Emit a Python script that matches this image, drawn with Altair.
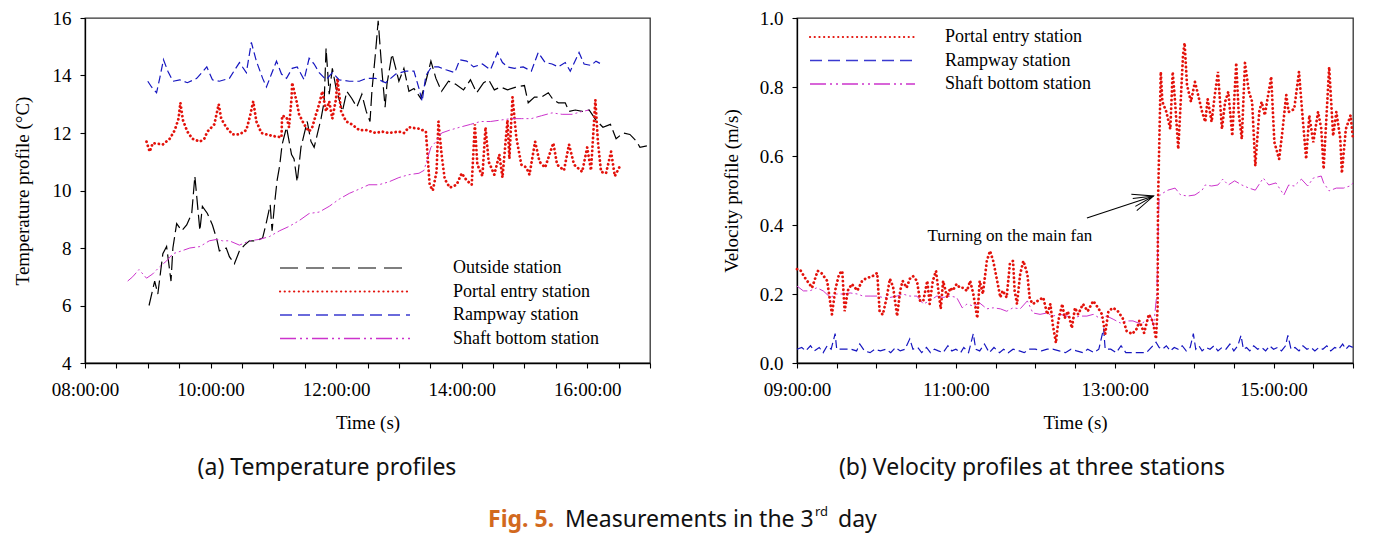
import altair as alt
import pandas as pd

# ---------------- data (hours, values) ----------------
out_h = [9.02, 9.11, 9.16, 9.24, 9.30, 9.37, 9.40, 9.46, 9.54, 9.62, 9.70, 9.75, 9.83, 9.87, 9.95,
         10.03, 10.10, 10.14, 10.25, 10.30, 10.38, 10.46, 10.54, 10.62, 10.73, 10.83, 10.89, 10.95,
         10.98, 11.03, 11.06, 11.10, 11.14, 11.21, 11.29, 11.33, 11.38, 11.44, 11.49, 11.54, 11.60,
         11.65, 11.70, 11.76, 11.81, 11.84, 11.89, 11.94, 12.00, 12.10, 12.17, 12.25, 12.33, 12.41,
         12.48, 12.54, 12.57, 12.63, 12.67, 12.73, 12.78, 12.81, 12.89, 12.95, 13.00, 13.08, 13.16,
         13.24, 13.35, 13.43, 13.51, 13.59, 13.68, 13.79, 13.90, 14.03, 14.14, 14.24, 14.35, 14.43,
         14.52, 14.62, 14.73, 14.87, 15.00, 15.06, 15.16, 15.27, 15.38, 15.46, 15.54, 15.65, 15.71,
         15.81, 15.92, 16.03, 16.14, 16.25, 16.37, 16.46, 16.57, 16.68, 16.79, 16.84, 16.95]
out_v = [6.0, 6.85, 6.4, 7.8, 8.05, 6.85, 8.0, 8.85, 8.6, 8.8, 9.2, 10.5, 8.6, 9.45, 9.2,
         8.8, 8.3, 7.9, 8.0, 7.7, 7.45, 7.9, 8.1, 8.25, 8.25, 8.35, 8.9, 9.5,
         8.6, 9.75, 10.35, 10.85, 11.6, 12.2, 11.25, 11.1, 10.3, 11.5, 11.95, 12.4, 11.7,
         11.5, 11.95, 12.5, 13.1, 14.95, 13.35, 14.25, 13.55, 12.75, 13.45, 13.2, 12.9, 13.35,
         12.75, 12.4, 13.45, 14.85, 15.9, 14.15, 12.9, 13.7, 14.75, 14.25, 13.8, 14.25, 13.45,
         13.55, 13.2, 13.8, 14.5, 13.9, 13.45, 13.8, 13.7, 13.5, 13.85, 13.4, 13.75, 13.85,
         13.5, 13.6, 13.5, 13.6, 13.65, 13.05, 13.25, 13.25, 13.4, 13.15, 13.05, 13.05, 12.75,
         12.8, 12.75, 12.8, 12.45, 12.2, 12.3, 11.8, 12.0, 11.95, 11.7, 11.5, 11.55]

portal_h = [8.98, 9.03, 9.08, 9.24, 9.35, 9.43, 9.49, 9.52, 9.56, 9.63, 9.71, 9.83, 9.90, 9.95,
            10.06, 10.13, 10.17, 10.25, 10.35, 10.46, 10.57, 10.63, 10.68, 10.73, 10.81, 10.89,
            10.98, 11.13, 11.14, 11.21, 11.25, 11.29, 11.30, 11.37, 11.41, 11.49, 11.57, 11.62,
            11.68, 11.73, 11.78, 11.84, 11.89, 11.94, 12.00, 12.02, 12.08, 12.16, 12.25, 12.37,
            12.48, 12.63, 12.73, 12.84, 13.00, 13.08, 13.16, 13.32, 13.43, 13.49, 13.54, 13.60,
            13.63, 13.68, 13.73, 13.81, 13.92, 14.00, 14.08, 14.16, 14.21, 14.25, 14.33, 14.38,
            14.43, 14.52, 14.60, 14.65, 14.73, 14.76, 14.81, 14.87, 14.95, 15.03, 15.08, 15.17,
            15.24, 15.33, 15.46, 15.52, 15.63, 15.71, 15.79, 15.92, 16.00, 16.06, 16.13, 16.17,
            16.22, 16.30, 16.38, 16.44, 16.51]
portal_v = [11.7, 11.35, 11.65, 11.6, 11.8, 12.1, 12.5, 13.05, 12.45, 12.05, 11.8, 11.7, 11.8, 12.05,
            12.3, 13.0, 12.5, 12.2, 11.95, 11.95, 12.1, 12.6, 13.1, 12.4, 12.0, 11.95,
            11.9, 11.85, 12.6, 12.55, 12.2, 13.2, 13.75, 13.1, 12.65, 12.3, 12.05, 12.2,
            12.65, 13.0, 13.45, 12.75, 13.1, 12.5, 13.2, 13.9, 12.75, 12.4, 12.3, 12.1,
            12.1, 12.0, 12.05, 12.0, 12.05, 12.0, 12.2, 12.15, 12.05, 10.2, 10.0, 10.65,
            12.4, 11.25, 10.4, 10.1, 10.2, 10.6, 10.35, 10.2, 12.3, 10.9, 10.5, 12.2,
            11.0, 10.55, 11.25, 10.45, 12.45, 11.1, 13.25, 11.85, 10.9, 10.8, 10.55, 11.7,
            11.0, 10.8, 11.65, 10.9, 10.7, 11.6, 10.9, 10.65, 11.5, 10.7, 13.15, 11.7,
            10.65, 10.6, 11.35, 10.5, 10.8]

ramp_h = [9.00, 9.06, 9.14, 9.19, 9.25, 9.32, 9.40, 9.51, 9.63, 9.78, 9.94, 10.03, 10.14, 10.30,
          10.46, 10.57, 10.65, 10.73, 10.83, 10.89, 10.97, 11.05, 11.13, 11.21, 11.30, 11.38,
          11.49, 11.57, 11.65, 11.73, 11.84, 11.94, 12.05, 12.21, 12.37, 12.48, 12.63, 12.79,
          12.95, 13.11, 13.24, 13.32, 13.37, 13.43, 13.52, 13.63, 13.75, 13.89, 13.97, 14.08,
          14.19, 14.33, 14.46, 14.57, 14.65, 14.73, 14.84, 14.98, 15.11, 15.22, 15.33, 15.44,
          15.54, 15.65, 15.73, 15.87, 15.95, 16.06, 16.14, 16.22]
ramp_v = [13.8, 13.6, 13.4, 13.9, 14.55, 14.15, 13.8, 13.85, 13.75, 13.9, 14.3, 13.85, 13.8, 13.9,
          14.45, 14.1, 15.15, 14.5, 13.9, 13.6, 14.05, 14.5, 14.05, 13.9, 14.25, 14.3,
          13.85, 14.6, 14.4, 14.1, 13.85, 14.1, 13.85, 13.8, 13.8, 13.9, 13.9, 13.75,
          14.05, 14.15, 14.15, 13.55, 13.1, 14.0, 14.3, 14.3, 14.2, 14.1, 14.55, 14.5,
          14.3, 14.4, 14.2, 14.8, 14.45, 14.3, 14.25, 14.3, 14.15, 14.8, 14.45, 14.4,
          14.3, 14.45, 14.15, 14.8, 14.4, 14.35, 14.5, 14.4]

shaft_h = [8.68, 8.76, 8.86, 8.98, 9.08, 9.19, 9.30, 9.40, 9.54, 9.67, 9.83, 9.98, 10.10, 10.19,
           10.30, 10.46, 10.62, 10.78, 10.94, 11.10, 11.25, 11.41, 11.57, 11.73, 11.89, 12.05,
           12.21, 12.37, 12.52, 12.68, 12.84, 13.00, 13.16, 13.32, 13.40, 13.44, 13.51, 13.59,
           13.68, 13.81, 13.97, 14.14, 14.30, 14.46, 14.62, 14.79, 14.95, 15.11, 15.27, 15.44,
           15.60, 15.76, 15.92, 16.03]
shaft_v = [6.85, 7.0, 7.25, 6.95, 7.1, 7.35, 7.55, 7.8, 7.9, 8.0, 8.05, 8.25, 8.3, 8.25,
           8.25, 8.1, 8.25, 8.3, 8.4, 8.6, 8.75, 8.95, 9.2, 9.25, 9.45, 9.7,
           9.9, 10.05, 10.2, 10.2, 10.3, 10.45, 10.55, 10.6, 10.7, 11.0, 11.5, 11.7,
           12.0, 12.1, 12.2, 12.3, 12.4, 12.4, 12.45, 12.5, 12.5, 12.5, 12.6, 12.7,
           12.65, 12.65, 12.75, 12.8]

# velocity panel
vp_h = [9.00, 9.04, 9.10, 9.19, 9.26, 9.31, 9.38, 9.44, 9.48, 9.53, 9.57, 9.60, 9.64, 9.69, 9.76,
        9.82, 9.88, 9.94, 10.01, 10.04, 10.08, 10.13, 10.17, 10.21, 10.26, 10.30, 10.33, 10.38,
        10.42, 10.46, 10.51, 10.55, 10.59, 10.64, 10.67, 10.71, 10.75, 10.78, 10.81, 10.84, 10.89,
        10.93, 10.96, 11.01, 11.05, 11.09, 11.14, 11.18, 11.22, 11.27, 11.30, 11.34, 11.39, 11.43,
        11.47, 11.52, 11.56, 11.59, 11.64, 11.68, 11.72, 11.74, 11.77, 11.81, 11.85, 11.90, 11.93,
        11.97, 12.03, 12.10, 12.15, 12.19, 12.22, 12.26, 12.29, 12.34, 12.37, 12.41, 12.46, 12.50,
        12.54, 12.60, 12.66, 12.73, 12.79, 12.84, 12.88, 12.92, 12.98, 13.04, 13.10, 13.15, 13.22,
        13.28, 13.31, 13.37, 13.43, 13.48, 13.52, 13.54, 13.545, 13.58, 13.60, 13.65, 13.70, 13.73,
        13.76, 13.80, 13.82, 13.86, 13.88, 13.91, 13.96, 14.01, 14.05, 14.10, 14.14, 14.17, 14.22,
        14.26, 14.30, 14.35, 14.39, 14.43, 14.48, 14.53, 14.56, 14.60, 14.64, 14.69, 14.73, 14.77,
        14.82, 14.85, 14.89, 14.97, 15.01, 15.07, 15.11, 15.16, 15.19, 15.26, 15.32, 15.36, 15.41,
        15.45, 15.50, 15.56, 15.60, 15.63, 15.70, 15.75, 15.79, 15.84, 15.86, 15.91, 15.97, 16.00]
vp_v = [0.272, 0.27, 0.247, 0.218, 0.267, 0.26, 0.238, 0.141, 0.21, 0.258, 0.267, 0.15, 0.21, 0.229, 0.21,
        0.238, 0.247, 0.25, 0.261, 0.15, 0.14, 0.19, 0.244, 0.22, 0.136, 0.21, 0.238, 0.218,
        0.244, 0.252, 0.238, 0.18, 0.18, 0.238, 0.171, 0.238, 0.267, 0.21, 0.157, 0.238, 0.19,
        0.218, 0.21, 0.229, 0.218, 0.218, 0.209, 0.238, 0.2, 0.13, 0.238, 0.2, 0.296, 0.325,
        0.296, 0.238, 0.19, 0.21, 0.19, 0.287, 0.296, 0.21, 0.171, 0.258, 0.296, 0.258, 0.186,
        0.171, 0.18, 0.19, 0.141, 0.171, 0.112, 0.058, 0.122, 0.171, 0.13, 0.15, 0.101, 0.16,
        0.141, 0.171, 0.15, 0.18, 0.16, 0.141, 0.084, 0.15, 0.16, 0.15, 0.13, 0.093, 0.084,
        0.1, 0.122, 0.087, 0.141, 0.12, 0.07, 0.162, 0.464, 0.844, 0.757, 0.728, 0.678, 0.844,
        0.757, 0.62, 0.707, 0.893, 0.928, 0.806, 0.757, 0.815, 0.777, 0.728, 0.699, 0.765, 0.699,
        0.777, 0.844, 0.678, 0.757, 0.786, 0.658, 0.87, 0.728, 0.649, 0.87, 0.786, 0.757, 0.571,
        0.728, 0.757, 0.718, 0.83, 0.64, 0.591, 0.669, 0.777, 0.728, 0.736, 0.844, 0.728, 0.591,
        0.718, 0.64, 0.728, 0.68, 0.562, 0.858, 0.658, 0.728, 0.65, 0.55, 0.678, 0.718, 0.649]

vs_h = [9.00, 9.08, 9.16, 9.25, 9.33, 9.42, 9.50, 9.58, 9.67, 9.76, 9.83, 9.92, 10.01, 10.08,
        10.17, 10.26, 10.33, 10.42, 10.51, 10.59, 10.67, 10.76, 10.84, 10.93, 11.01, 11.08, 11.14,
        11.22, 11.30, 11.39, 11.47, 11.56, 11.64, 11.72, 11.81, 11.90, 11.97, 12.06, 12.15, 12.22,
        12.31, 12.40, 12.47, 12.56, 12.65, 12.73, 12.81, 12.90, 12.98, 13.07, 13.15, 13.23, 13.33,
        13.46, 13.49, 13.53, 13.545, 13.56, 13.61, 13.67, 13.76, 13.83, 13.92, 14.01, 14.10, 14.14,
        14.22, 14.30, 14.36, 14.43, 14.51, 14.60, 14.69, 14.77, 14.87, 14.94, 15.03, 15.13, 15.19,
        15.26, 15.35, 15.43, 15.50, 15.60, 15.63, 15.70, 15.79, 15.88, 15.96, 16.00]
vs_v = [0.223, 0.209, 0.209, 0.218, 0.209, 0.19, 0.2, 0.2, 0.203, 0.2, 0.194, 0.194, 0.194, 0.19,
        0.19, 0.194, 0.2, 0.194, 0.194, 0.171, 0.18, 0.194, 0.19, 0.194, 0.19, 0.16, 0.171,
        0.165, 0.174, 0.157, 0.16, 0.157, 0.15, 0.16, 0.157, 0.18, 0.145, 0.141, 0.145, 0.136,
        0.141, 0.136, 0.13, 0.136, 0.136, 0.141, 0.13, 0.136, 0.127, 0.116, 0.122, 0.122, 0.113,
        0.133, 0.107, 0.2, 0.365, 0.484, 0.493, 0.501, 0.507, 0.487, 0.484, 0.487, 0.501, 0.516,
        0.513, 0.516, 0.533, 0.516, 0.528, 0.516, 0.507, 0.501, 0.536, 0.516, 0.522, 0.487, 0.516,
        0.513, 0.533, 0.513, 0.536, 0.542, 0.522, 0.499, 0.507, 0.507, 0.513, 0.522]

vr_h = [9.00, 9.06, 9.11, 9.17, 9.22, 9.28, 9.33, 9.38, 9.43, 9.48, 9.50, 9.60, 9.68, 9.75, 9.79,
        9.85, 9.92, 9.98, 10.05, 10.12, 10.18, 10.24, 10.30, 10.36, 10.42, 10.46, 10.52, 10.57,
        10.63, 10.68, 10.73, 10.78, 10.84, 10.90, 10.95, 11.00, 11.06, 11.10, 11.16, 11.22, 11.25,
        11.30, 11.36, 11.42, 11.48, 11.55, 11.60, 11.66, 11.72, 11.80, 11.86, 11.92, 12.00, 12.08,
        12.15, 12.22, 12.30, 12.38, 12.45, 12.52, 12.60, 12.66, 12.74, 12.80, 12.86, 12.88, 12.95,
        13.02, 13.08, 13.14, 13.20, 13.30, 13.40, 13.48, 13.52, 13.56, 13.60, 13.65, 13.70, 13.75,
        13.80, 13.85, 13.90, 13.95, 13.99, 14.02, 14.06, 14.10, 14.15, 14.20, 14.25, 14.30, 14.35,
        14.40, 14.45, 14.50, 14.55, 14.59, 14.62, 14.66, 14.70, 14.75, 14.80, 14.85, 14.90, 14.95,
        15.00, 15.05, 15.10, 15.15, 15.18, 15.22, 15.27, 15.32, 15.37, 15.42, 15.47, 15.52, 15.57,
        15.62, 15.67, 15.72, 15.77, 15.82, 15.87, 15.91, 15.95, 16.00]
vr_v = [0.04, 0.045, 0.035, 0.05, 0.035, 0.045, 0.03, 0.05, 0.04, 0.085, 0.04, 0.04, 0.04, 0.035, 0.055,
        0.035, 0.03, 0.04, 0.035, 0.04, 0.03, 0.045, 0.035, 0.04, 0.07, 0.04, 0.045, 0.03,
        0.045, 0.03, 0.04, 0.035, 0.03, 0.05, 0.035, 0.04, 0.03, 0.045, 0.03, 0.085, 0.04,
        0.035, 0.055, 0.03, 0.045, 0.03, 0.04, 0.03, 0.04, 0.035, 0.03, 0.04, 0.04, 0.035,
        0.04, 0.04, 0.035, 0.03, 0.04, 0.035, 0.03, 0.04, 0.03, 0.04, 0.1, 0.04, 0.04,
        0.03, 0.05, 0.03, 0.03, 0.03, 0.03, 0.05, 0.06, 0.045, 0.04, 0.05, 0.035, 0.045,
        0.04, 0.05, 0.035, 0.045, 0.085, 0.04, 0.05, 0.035, 0.045, 0.04, 0.05, 0.035, 0.045,
        0.04, 0.055, 0.035, 0.05, 0.08, 0.04, 0.045, 0.035, 0.05, 0.04, 0.045, 0.035, 0.05,
        0.04, 0.045, 0.035, 0.05, 0.08, 0.04, 0.045, 0.035, 0.05, 0.04, 0.045, 0.035, 0.045,
        0.04, 0.05, 0.035, 0.045, 0.04, 0.055, 0.04, 0.05, 0.045]

names_a = ["Outside station", "Portal entry station", "Rampway station", "Shaft bottom station"]
names_b = ["Portal entry station", "Rampway station", "Shaft bottom station"]
annot_text = ["Turning on the main fan"]
annot_xy = [12.65, 0.42, 13.49, 0.484]  # tail hour, tail value, tip hour, tip value
annot_label_xy = [11.68, 0.368]

SERIF = "Liberation Serif"
SANS = "Noto Sans"
STYLE = {
    "Outside station": dict(color="#000000", strokeDash=[14, 5], strokeWidth=1.2, strokeCap="butt"),
    "Portal entry station": dict(color="#e3120b", strokeDash=[0.1, 4.2], strokeWidth=2.8, strokeCap="round"),
    "Rampway station": dict(color="#1616c0", strokeDash=[8, 4], strokeWidth=1.2, strokeCap="butt"),
    "Shaft bottom station": dict(color="#cc33cc", strokeDash=[12, 3, 2, 3, 2, 3], strokeWidth=1.0, strokeCap="butt"),
}
LEG_STYLE = {
    "Outside station": dict(color="#555555", strokeDash=[18, 8], strokeWidth=1.4, strokeCap="butt"),
    "Portal entry station": dict(color="#e3120b", strokeDash=[0.1, 4.6], strokeWidth=2.2, strokeCap="round"),
    "Rampway station": dict(color="#3a3ad0", strokeDash=[12, 6], strokeWidth=1.4, strokeCap="butt"),
    "Shaft bottom station": dict(color="#cc33cc", strokeDash=[16, 4, 2, 4, 2, 4], strokeWidth=1.3, strokeCap="butt"),
}


def xaxis(parity):
    expr = ("datum.value % 2 == " + str(parity) +
            " ? (datum.value < 10 ? '0' : '') + datum.value + ':00:00' : ''")
    return alt.Axis(values=[x / 2 for x in range(14, 36)], title="Time (s)", labelExpr=expr,
                    labelPadding=12, titlePadding=14, tickSize=5, labelFlush=False, labelOverlap=False)


def series(h, v, name, xs, ys, ax, ay):
    df = pd.DataFrame({"h": h, "v": v})
    return alt.Chart(df).mark_line(**STYLE[name]).encode(
        x=alt.X("h:Q", scale=xs, axis=ax), y=alt.Y("v:Q", scale=ys, axis=ay))


def legend(names, x0, x1, x_text, y0, dy):
    layers = []
    for i, n in enumerate(names):
        d = pd.DataFrame({"label": [n]})
        layers.append(alt.Chart(d).mark_rule(**LEG_STYLE[n]).encode(
            x=alt.value(x0), x2=alt.value(x1), y=alt.value(y0 + i * dy)))
        layers.append(alt.Chart(d).mark_text(font=SERIF, fontSize=18, align="left", baseline="middle",
                                             color="black").encode(
            text="label:N", x=alt.value(x_text), y=alt.value(y0 + i * dy)))
    return layers


def label(t, x, y, size, weight="normal", color="#111111", font=SANS, align="left"):
    return alt.Chart(pd.DataFrame({"t": [t]})).mark_text(
        font=font, fontSize=size, fontWeight=weight, align=align, baseline="middle", color=color).encode(
        text="t:N", x=alt.value(x), y=alt.value(y))


# ---------------- panel (a) ----------------
xs_a = alt.Scale(domain=[8, 17], nice=False, zero=False)
ys_a = alt.Scale(domain=[4, 16], nice=False, zero=False)
ax_a = xaxis(0)
ay_a = alt.Axis(values=[4, 6, 8, 10, 12, 14, 16], title="Temperature profile (°C)",
                labelPadding=9, titlePadding=20, tickSize=5)
lines_a = [series(out_h, out_v, names_a[0], xs_a, ys_a, ax_a, ay_a),
           series(portal_h, portal_v, names_a[1], xs_a, ys_a, ax_a, ay_a),
           series(ramp_h, ramp_v, names_a[2], xs_a, ys_a, ax_a, ay_a),
           series(shaft_h, shaft_v, names_a[3], xs_a, ys_a, ax_a, ay_a)]
captions_a = [
    label("(a) Temperature profiles", 242, 450, 23, align="center"),
    label("Fig. 5.", 403, 502, 23, weight="bold", color="#d2691e"),
    label("Measurements in the 3", 480, 502, 23),
    label("rd", 730, 494, 13),
    label("day", 753, 502, 23),
]
panel_a = alt.layer(*lines_a, *legend(names_a, 195, 325, 368, 250, 23.5), *captions_a).properties(
    width=565, height=345)

# ---------------- panel (b) ----------------
xs_b = alt.Scale(domain=[9, 16], nice=False, zero=False)
ys_b = alt.Scale(domain=[0, 1], nice=False)
ax_b = xaxis(1)
ay_b = alt.Axis(values=[0, 0.2, 0.4, 0.6, 0.8, 1.0], format=".1f", title="Velocity profile (m/s)",
                labelPadding=9, titlePadding=18, tickSize=5)
lines_b = [series(vr_h, vr_v, "Rampway station", xs_b, ys_b, ax_b, ay_b),
           series(vs_h, vs_v, "Shaft bottom station", xs_b, ys_b, ax_b, ay_b),
           series(vp_h, vp_v, "Portal entry station", xs_b, ys_b, ax_b, ay_b)]

arrow_df = pd.DataFrame({"h0": [annot_xy[0]], "v0": [annot_xy[1]], "h1": [annot_xy[2]], "v1": [annot_xy[3]]})
arrow_line = alt.Chart(arrow_df).mark_rule(color="black", strokeWidth=1.1).encode(
    x=alt.X("h0:Q", scale=xs_b, axis=ax_b), y=alt.Y("v0:Q", scale=ys_b, axis=ay_b),
    x2="h1:Q", y2="v1:Q")
arrow_head = alt.Chart(arrow_df).mark_point(
    shape="M-1,-0.42L0,0L-1,0.42M-1,-0.2L0,0L-1,0.2", size=1700, angle=341.7, filled=False,
    color="black", strokeWidth=1.0, opacity=1).encode(
    x=alt.X("h1:Q", scale=xs_b, axis=ax_b), y=alt.Y("v1:Q", scale=ys_b, axis=ay_b))
annot = alt.Chart(pd.DataFrame({"t": annot_text, "h": [annot_label_xy[0]], "v": [annot_label_xy[1]]})).mark_text(
    font=SERIF, fontSize=17, align="center", baseline="middle", color="black").encode(
    text="t:N", x=alt.X("h:Q", scale=xs_b, axis=ax_b), y=alt.Y("v:Q", scale=ys_b, axis=ay_b))
cap_b = label("(b) Velocity profiles at three stations", 235, 450, 23, align="center")

panel_b = alt.layer(*lines_b, *legend(names_b, 13, 118, 148, 19, 23.5), arrow_line, arrow_head,
                    annot, cap_b).properties(width=556, height=345)

chart = alt.hconcat(panel_a, panel_b, spacing=147, bounds="flush").properties(
    padding={"left": 4, "top": 0, "right": 5, "bottom": 5},
    background="white"
).configure_view(stroke="#333333", strokeWidth=1.3).configure_axis(
    labelFont=SERIF, titleFont=SERIF, labelFontSize=19, titleFontSize=19, titleFontWeight="normal",
    labelColor="black", titleColor="black", domainColor="black", tickColor="black", domainWidth=1.3,
    tickWidth=1.1, grid=False
)

chart.save("out.html", embed_options={"renderer": "svg", "actions": False})
